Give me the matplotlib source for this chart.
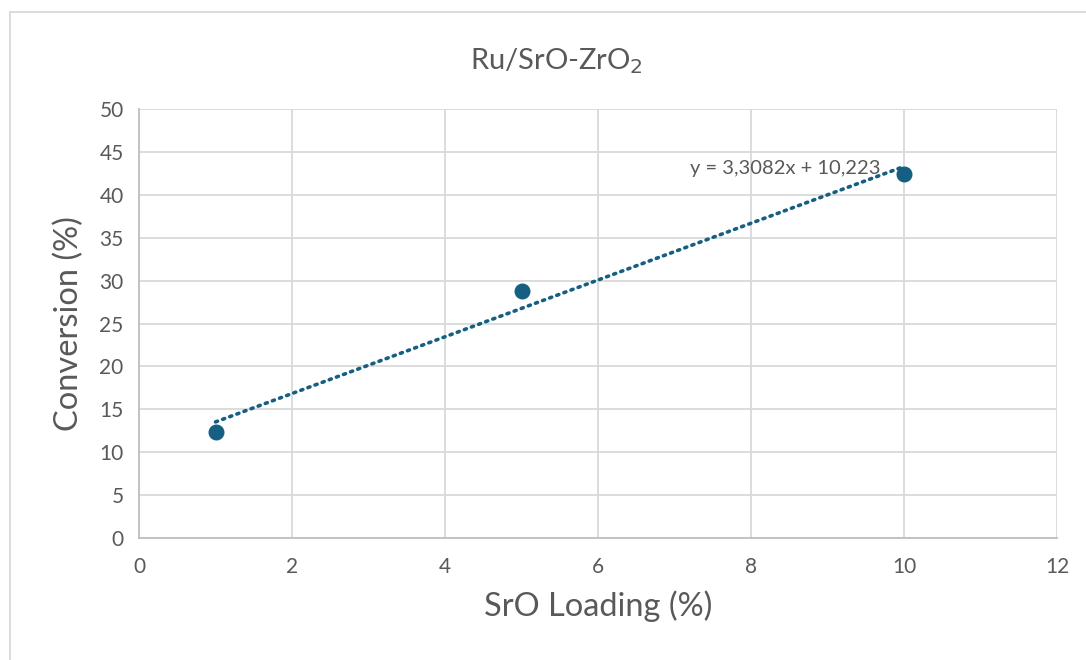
import numpy as np
import matplotlib.pyplot as plt
from matplotlib.lines import Line2D

# SrO loading (%) vs conversion (%)
loading = [1, 5, 10]
conversion = [12.4, 28.8, 42.4]

# linear trendline coefficients
slope = 3.3082
intercept = 10.223

x_ticks = [0, 2, 4, 6, 8, 10, 12]
y_ticks = [0, 5, 10, 15, 20, 25, 30, 35, 40, 45, 50]

blue = '#156082'
grey_txt = '#595959'
grid_col = '#d9d9d9'

plt.rcParams['font.family'] = ['Lato', 'DejaVu Sans']

fig = plt.figure(figsize=(10.86, 6.6), dpi=100)
ax = fig.add_axes([0.128, 0.1848, 0.8453, 0.65])

# chart frame (left and top edges only are visible)
fig.add_artist(Line2D([0.0092, 0.0092], [0, 0.982], color=grid_col, lw=1.3,
                      transform=fig.transFigure))
fig.add_artist(Line2D([0.0092, 1], [0.982, 0.982], color=grid_col, lw=1.3,
                      transform=fig.transFigure))

xs = np.array([loading[0], loading[-1]])
ax.plot(xs, slope * xs + intercept, color=blue, lw=2.6,
        linestyle=(0, (0.6, 1.5)), dash_capstyle='round', zorder=3)
ax.plot(loading, conversion, 'o', color=blue, markersize=10.5, zorder=4)

eq = 'y = {:.4f}x + {:.3f}'.format(slope, intercept).replace('.', ',')
ax.text(7.2, 43.1, eq, fontsize=14.5, color=grey_txt, va='center', ha='left',
        zorder=5)

ax.set_xlim(0, 12)
ax.set_ylim(0, 50)
ax.set_xticks(x_ticks)
ax.set_yticks(y_ticks)
ax.grid(True, color=grid_col, lw=1.3)
ax.set_axisbelow(True)
for s in ax.spines.values():
    s.set_visible(False)
ax.spines['left'].set_visible(True)
ax.spines['bottom'].set_visible(True)
ax.spines['left'].set_color('#bfbfbf')
ax.spines['bottom'].set_color('#bfbfbf')
ax.spines['left'].set_linewidth(1.3)
ax.spines['bottom'].set_linewidth(1.3)
ax.tick_params(axis='x', length=0, labelsize=15, labelcolor=grey_txt, pad=14)
ax.tick_params(axis='y', length=0, labelsize=15, labelcolor=grey_txt, pad=11)

ax.set_xlabel('SrO Loading (%)', fontsize=23.5, color=grey_txt, labelpad=9)
ax.set_ylabel('Conversion (%)', fontsize=23.5, color=grey_txt, labelpad=11)

fig.text(0.512, 0.908, 'Ru/SrO-ZrO$_2$', fontsize=21, color=grey_txt,
         ha='center', va='center')

fig.savefig('out.png', dpi=100)
